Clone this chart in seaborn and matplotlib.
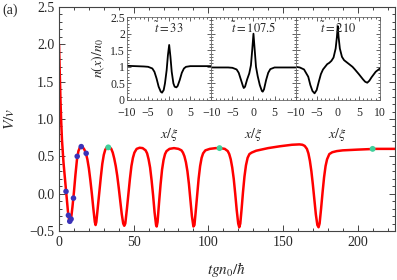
import numpy as np
import pandas as pd
import matplotlib
matplotlib.use("Agg")
import matplotlib.pyplot as plt
from matplotlib.ticker import MultipleLocator
import seaborn as sns

# -----------------------------
# Data
# -----------------------------

# main curve: V/v against t g n0 / hbar
t_curve = [0, 0.5, 1, 1.5, 2, 3, 4, 5, 6, 6.8, 7.5, 8.3, 9, 10, 11, 12, 13, 14, 15,
           16, 17, 18, 19, 20, 21, 22, 23, 24, 24.5, 25, 26, 27, 28, 29, 30, 31, 32, 33,
           34, 35, 36, 37, 38, 39, 40, 41, 42, 43, 43.7, 44.4, 45.5, 46.5, 47.5, 48.5,
           49.5, 50.5, 52, 54, 56, 58, 59, 60, 61, 62, 63, 64, 65, 65.4, 66, 67, 68, 69,
           70, 71, 72, 74, 77, 80, 82, 83, 84, 85, 86, 87, 88, 89, 90, 90.7, 91.5, 92.5,
           93.5, 94.5, 95.5, 96.5, 98, 101, 105, 108, 111, 113, 114, 115, 116, 117, 118,
           119, 120, 120.7, 121.4, 122.3, 123.2, 124.2, 125.2, 126.3, 127.5, 129, 132,
           140, 148, 156, 161, 163, 164.5, 166, 167, 168, 169, 170, 171, 172, 173, 173.8,
           174.5, 175.5, 176.5, 177.5, 178.5, 179.5, 181, 183, 186, 190, 200, 212, 225]
v_curve = [2.0, 1.6, 1.25, 0.95, 0.72, 0.42, 0.2, -0.02, -0.24, -0.36, -0.37, -0.3, -0.18,
           0.02, 0.25, 0.45, 0.57, 0.62, 0.63,
           0.62, 0.59, 0.54, 0.46, 0.34, 0.18, 0.0, -0.2, -0.38, -0.42, -0.38, -0.18, 0.02,
           0.22, 0.40, 0.52, 0.59, 0.62, 0.625,
           0.62, 0.6, 0.55, 0.47, 0.37, 0.24, 0.08, -0.1, -0.27, -0.4, -0.43, -0.4, -0.2,
           0.0, 0.2, 0.37,
           0.48, 0.55, 0.6, 0.615, 0.61, 0.58, 0.54, 0.46, 0.35, 0.18, -0.02, -0.25, -0.42,
           -0.44, -0.38, -0.12, 0.12, 0.32,
           0.45, 0.53, 0.57, 0.6, 0.61, 0.6, 0.58, 0.55, 0.5, 0.42, 0.3, 0.13, -0.08, -0.3,
           -0.44, -0.42, -0.25, -0.02,
           0.2, 0.37, 0.48, 0.54, 0.58, 0.6, 0.61, 0.61, 0.6, 0.57, 0.53, 0.46, 0.35, 0.2,
           0.0,
           -0.22, -0.4, -0.45, -0.4, -0.2, 0.02, 0.23, 0.38, 0.48, 0.53, 0.55, 0.575,
           0.61, 0.635, 0.655, 0.66, 0.655, 0.64, 0.6, 0.54, 0.44, 0.3, 0.12, -0.08, -0.28,
           -0.42, -0.45,
           -0.4, -0.2, 0.02, 0.22, 0.37, 0.46, 0.53, 0.555, 0.57, 0.58, 0.59, 0.6, 0.6]

# simulation points (blue)
t_blue = [4.7, 6.3, 7.2, 8.1, 9.7, 12.2, 14.9, 18.2]
v_blue = [0.03, -0.29, -0.37, -0.34, -0.06, 0.50, 0.63, 0.54]

# snapshot times (green)
t_green = [33, 107.5, 210]
v_green = [0.62, 0.61, 0.60]
snap_labels = ["33", "107.5", "210"]

# main axis tick labels
y_ticks = [-0.5, 0.0, 0.5, 1.0, 1.5, 2.0, 2.5]
y_ticklabels = ["\u22120.5", "0.0", "0.5", "1.0", "1.5", "2.0", "2.5"]

# density profiles n(x)/n0 for the three snapshots
x_prof = [-10, -8, -6, -5, -4, -3.5, -3, -2.5, -2, -1.7, -1.3, -1, -0.6, -0.3, 0,
          0.3, 0.6, 1, 1.3, 1.7, 2, 2.5, 3, 3.5, 4, 5, 6, 8, 10]
n_33 = [1.03, 1.02, 1.01, 1.0, 0.95, 0.85, 0.65, 0.4, 0.25, 0.22, 0.3, 0.5, 0.9, 1.35, 1.66,
        1.3, 0.85, 0.5, 0.4, 0.38, 0.42, 0.6, 0.82, 0.95, 1.0, 1.02, 1.02, 1.02, 1.02]

x_prof2 = [-10, -8, -6, -5, -4, -3.5, -3, -2.5, -2.3, -2, -1.5, -1, -0.6, -0.3, 0,
           0.3, 0.6, 1, 1.5, 2, 2.2, 2.5, 3, 3.5, 4, 5, 6, 8, 10]
n_107 = [0.98, 0.98, 0.98, 0.97, 0.92, 0.82, 0.62, 0.42, 0.36, 0.4, 0.62, 0.8, 1.05, 1.5, 2.0,
         1.5, 1.0, 0.72, 0.45, 0.27, 0.25, 0.32, 0.6, 0.82, 0.93, 0.98, 0.98, 0.98, 0.98]

x_prof3 = [-10, -9, -8, -7, -6.5, -6, -5.5, -5, -4.5, -4, -3.5, -3, -2.5, -2, -1.5, -1,
           -0.5, -0.2, 0, 0.2, 0.5, 1, 1.5, 2, 2.5, 3, 3.5, 4, 5, 6, 6.5, 7, 7.5, 8, 9, 10]
n_210 = [1.0, 0.98, 0.92, 0.7, 0.45, 0.27, 0.2, 0.3, 0.55, 0.78, 0.92, 1.0, 1.08, 1.12, 1.18,
         1.28, 1.55, 1.9, 2.23, 1.9, 1.55, 1.3, 1.2, 1.15, 1.1, 1.05, 1.0, 0.93, 0.78, 0.62,
         0.55, 0.52, 0.58, 0.68, 0.85, 0.95]

profiles = [(x_prof, n_33), (x_prof2, n_107), (x_prof3, n_210)]

# -----------------------------
# Style
# -----------------------------

sns.set_style("ticks")
plt.rcParams['font.family'] = ['Liberation Serif', 'DejaVu Serif']
plt.rcParams['mathtext.fontset'] = 'stix'
plt.rcParams['xtick.direction'] = 'in'
plt.rcParams['ytick.direction'] = 'in'
plt.rcParams['axes.edgecolor'] = '#444444'

fig = plt.figure(figsize=(3.97, 2.80), dpi=100)

# -----------------------------
# Main panel
# -----------------------------

ax = fig.add_axes([0.1486, 0.175, 0.8464, 0.80])

df = pd.DataFrame({"t": t_curve, "V": v_curve})
sns.lineplot(data=df, x="t", y="V", color="#ff0000", linewidth=1.8,
             estimator=None, sort=False, ax=ax)
sns.scatterplot(x=t_blue, y=v_blue, color="#3b32b8", s=16, edgecolor="none",
                zorder=5, ax=ax)
sns.scatterplot(x=t_green, y=v_green, color="#3fd09c", s=18, edgecolor="none",
                zorder=5, ax=ax)

ax.set_xlim(0, 225)
ax.set_ylim(-0.5, 2.5)
ax.xaxis.set_major_locator(MultipleLocator(50))
ax.xaxis.set_minor_locator(MultipleLocator(10))
ax.set_yticks(y_ticks)
ax.set_yticklabels(y_ticklabels)
ax.yaxis.set_minor_locator(MultipleLocator(0.1))
ax.tick_params(which='both', top=True, right=True, labelsize=10, width=0.6)
ax.tick_params(which='major', length=4)
ax.tick_params(which='minor', length=2)
for sp in ax.spines.values():
    sp.set_linewidth(0.8)

ax.set_xlabel(r"$tgn_0/\hbar$", fontsize=11)
ax.set_ylabel(r"$V/v$", fontsize=11)
ax.xaxis.set_label_coords(0.5, -0.13)
ax.yaxis.set_label_coords(-0.125, 0.5)

fig.text(0.005, 0.965, "(a)", fontsize=10, va="center")

# -----------------------------
# Inset: density profiles
# -----------------------------

x0 = 0.32
w = 0.2123
for i, (xs, ns) in enumerate(profiles):
    ia = fig.add_axes([x0 + i * w, 0.643, w, 0.296])
    sns.lineplot(x=xs, y=ns, color="black", linewidth=1.3, estimator=None,
                 sort=False, ax=ia)
    ia.set_xlim(-10, 10)
    ia.set_ylim(0, 2.5)
    ia.xaxis.set_minor_locator(MultipleLocator(1))
    ia.yaxis.set_minor_locator(MultipleLocator(0.1))
    ia.tick_params(which='both', top=True, right=True, labelsize=8.5, width=0.5)
    ia.tick_params(axis='x', pad=5)
    ia.tick_params(axis='y', pad=1.5)
    ia.tick_params(which='major', length=3)
    ia.tick_params(which='minor', length=1.5)
    if i < 2:
        ia.set_xticks([-10, -5, 0, 5])
    else:
        ia.set_xticks([-10, -5, 0, 5, 10])
    ia.set_xticklabels([str(v).replace("-", "\u2212") for v in ia.get_xticks().astype(int)])
    ia.set_yticks([0, 0.5, 1, 1.5, 2, 2.5])
    if i == 0:
        ia.set_yticklabels(["0", "0.5", "1", "1.5", "2", "2.5"])
        ia.set_ylabel(r"$n(x)/n_0$", fontsize=10, labelpad=2)
    else:
        ia.set_yticklabels([])
    for sp in ia.spines.values():
        sp.set_linewidth(0.6)
        sp.set_color("#666666")
    ia.set_xlabel(r"$x/\xi$", fontsize=10, labelpad=5)
    ia.text(0.5, 0.96, r"$\tilde{t}=" + snap_labels[i] + "$", transform=ia.transAxes,
            ha="center", va="top", fontsize=9)

plt.savefig("out.png", dpi=100)
